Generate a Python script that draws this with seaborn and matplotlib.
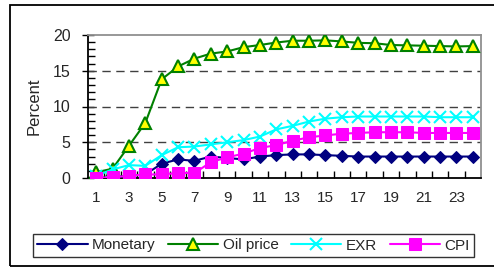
import numpy as np
import pandas as pd
import matplotlib
matplotlib.use("Agg")
import matplotlib.pyplot as plt
import seaborn as sns
from matplotlib.patches import Rectangle

# Data (horizon 1..24)
horizon = list(range(1, 25))
monetary = [0.0, 0.1, 0.3, 0.5, 2.0, 2.6, 2.4, 3.0, 2.8, 2.6, 3.0, 3.2,
            3.3, 3.3, 3.2, 3.1, 3.0, 3.0, 3.0, 3.0, 3.0, 3.0, 3.0, 3.0]
oil_price = [0.8, 1.3, 4.5, 7.7, 13.8, 15.6, 16.7, 17.4, 17.7, 18.3, 18.6, 18.95,
             19.2, 19.2, 19.25, 19.1, 18.9, 18.85, 18.6, 18.55, 18.5, 18.45, 18.4, 18.45]
exr = [0.3, 1.2, 1.8, 1.7, 3.2, 4.3, 4.4, 4.7, 5.0, 5.3, 5.8, 6.8,
       7.3, 7.9, 8.3, 8.5, 8.6, 8.6, 8.6, 8.6, 8.6, 8.5, 8.5, 8.5]
cpi = [0.0, 0.1, 0.3, 0.5, 0.5, 0.7, 0.7, 2.2, 2.9, 3.4, 4.2, 4.6,
       5.2, 5.7, 5.95, 6.2, 6.3, 6.4, 6.4, 6.4, 6.3, 6.3, 6.3, 6.3]

df = pd.DataFrame({"horizon": horizon, "Monetary": monetary, "Oil price": oil_price,
                   "EXR": exr, "CPI": cpi})

sns.set_style("white")
plt.rcParams['font.family'] = ['Liberation Sans', 'DejaVu Sans']

fig = plt.figure(figsize=(4.94, 2.67), dpi=100)
ax = fig.add_axes([88 / 494, 1 - 178 / 267, (481 - 88) / 494, (178 - 35) / 267])

# outer frame
fig.patches.append(Rectangle((10 / 494, 1 / 267), 1.2, 261 / 267, transform=fig.transFigure,
                             fill=False, edgecolor="black", linewidth=1.3))

sns.lineplot(data=df, x="horizon", y="Monetary", ax=ax, color="#000080", marker="D",
             markersize=6.5, markeredgecolor="#000080", markerfacecolor="#000080",
             linewidth=1.5, label="Monetary", zorder=3)
sns.lineplot(data=df, x="horizon", y="Oil price", ax=ax, color="#008000", marker="^",
             markersize=8, markeredgecolor="#008000", markerfacecolor="#ffff00",
             markeredgewidth=1.5, linewidth=1.5, label="Oil price", zorder=3)
sns.lineplot(data=df, x="horizon", y="EXR", ax=ax, color="#00ffff", marker="x",
             markersize=8, markeredgecolor="#00ffff", markeredgewidth=1.5,
             linewidth=1.5, label="EXR", zorder=3)
sns.lineplot(data=df, x="horizon", y="CPI", ax=ax, color="#ff00ff", marker="s",
             markersize=8, markeredgecolor="#ff00ff", markerfacecolor="#ff00ff",
             linewidth=1.5, label="CPI", zorder=4)

ax.set_xlim(0.5, 24.5)
ax.set_ylim(0, 20)
ax.set_xticks(horizon[::2])
ax.set_xticks(np.arange(1.5, 24.5, 1), minor=True)
ax.set_yticks([0, 5, 10, 15, 20])
ax.set_yticks(np.arange(0, 21, 1), minor=True)
ax.tick_params(axis="x", which="major", length=0, pad=9, labelsize=11)
ax.tick_params(axis="x", which="minor", direction="in", length=5, width=1, color="black",
               bottom=True)
ax.tick_params(axis="y", which="major", direction="inout", length=9, width=1, pad=8,
               labelsize=11.5, color="black", left=True)
ax.tick_params(axis="y", which="minor", direction="in", length=5, width=1, color="black",
               left=True)

for yv in [5, 10, 15]:
    ax.axhline(yv, color="#404040", linestyle=(0, (6, 4)), linewidth=1, zorder=1)

ax.spines["left"].set_color("black")
ax.spines["bottom"].set_color("black")
ax.spines["top"].set_color("#909090")
ax.spines["right"].set_color("#909090")
for s in ax.spines.values():
    s.set_linewidth(1.3)

ax.set_xlabel("")
ax.set_ylabel("Percent", fontsize=12, labelpad=8)

handles, labels = ax.get_legend_handles_labels()
ax.get_legend().remove()
leg = fig.legend(handles, labels, loc="center", bbox_to_anchor=(253.5 / 494, 1 - 245.5 / 267),
                 ncol=4, fontsize=11, frameon=True, fancybox=False, edgecolor="black",
                 handlelength=3.3, handletextpad=0.3, columnspacing=0.8, borderpad=0.3,
                 borderaxespad=0)
leg.get_frame().set_linewidth(1)

fig.savefig("out.png", dpi=100)
